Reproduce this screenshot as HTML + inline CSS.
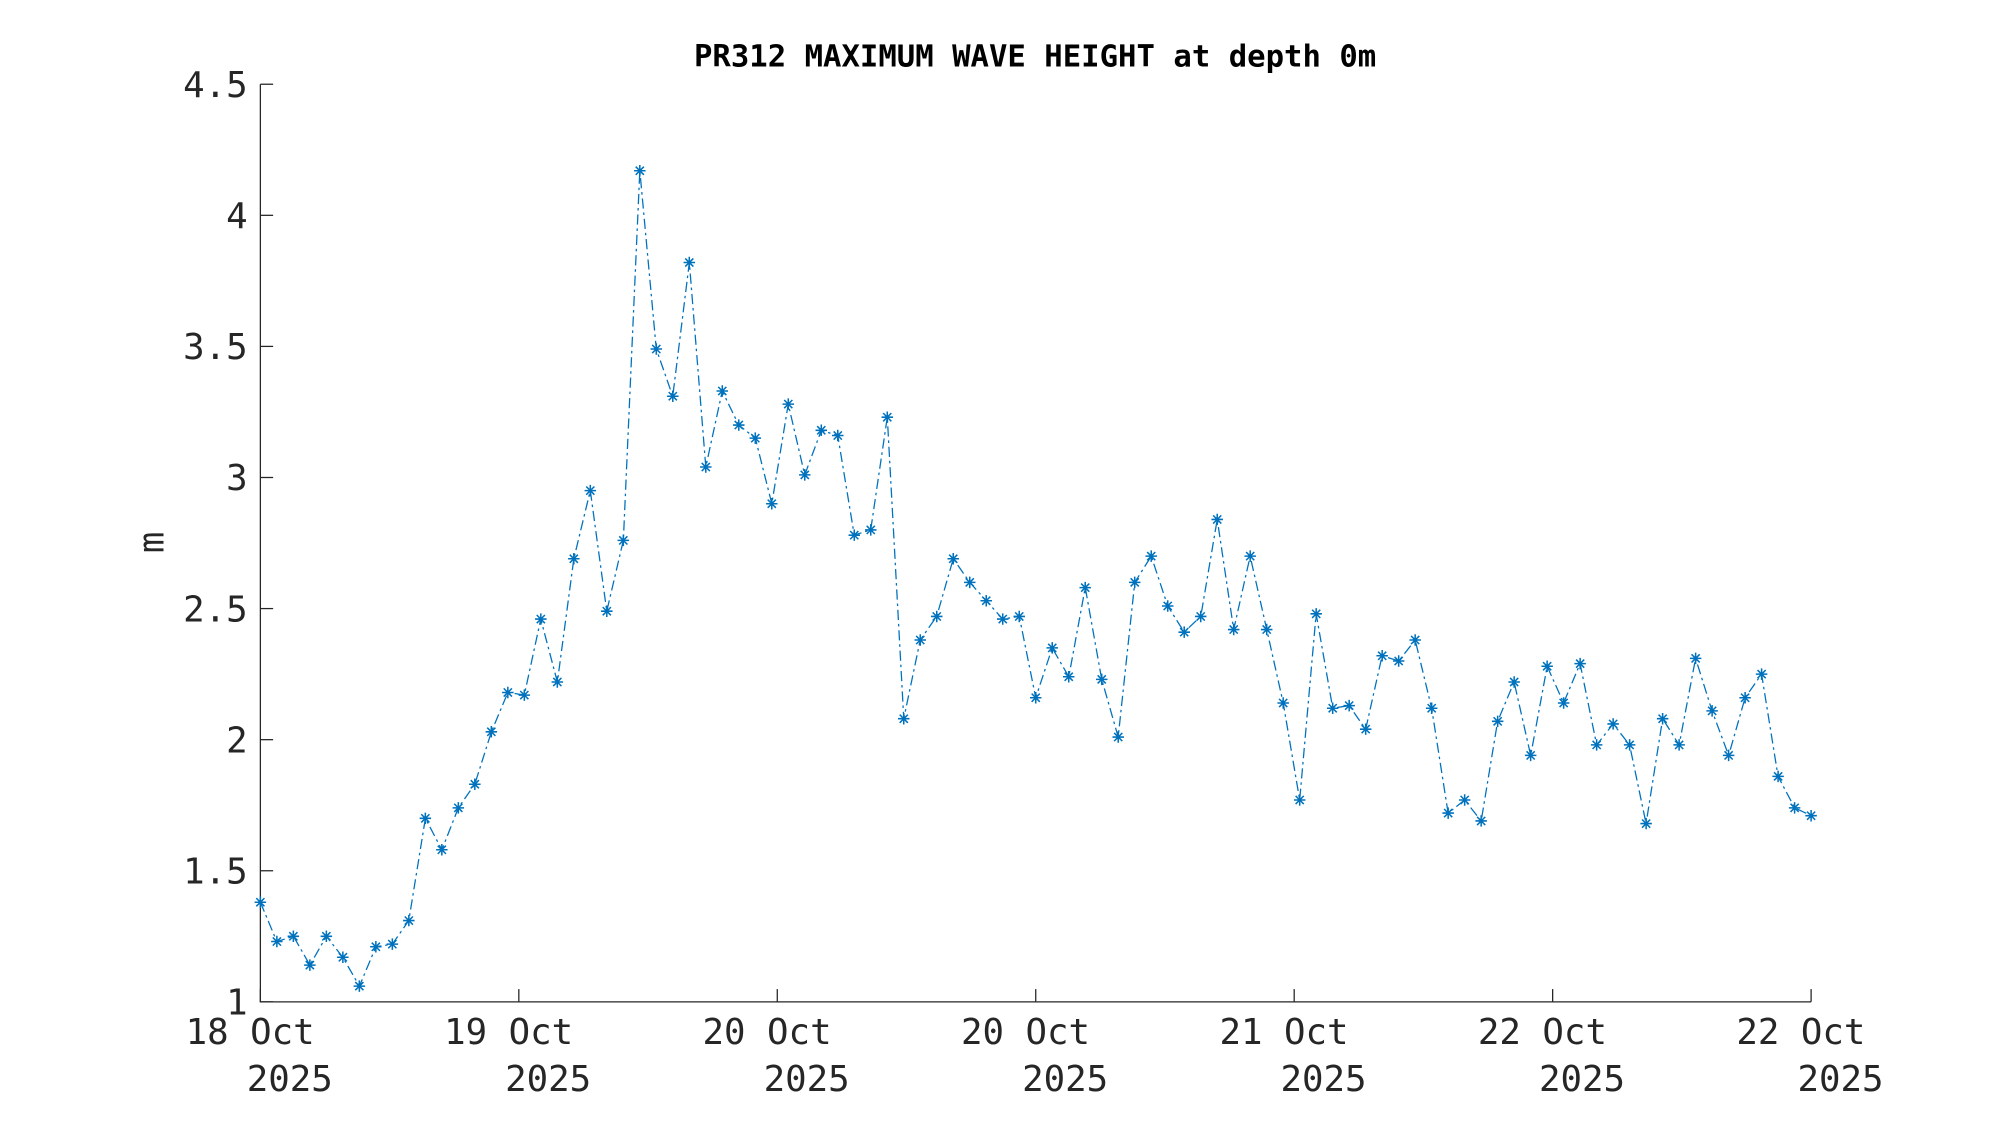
<!DOCTYPE html>
<html><head><meta charset="utf-8"><style>html,body{margin:0;padding:0;background:#fff;width:2000px;height:1125px;overflow:hidden}</style></head>
<body>
<svg id="s" width="2000" height="1125" viewBox="0 0 1567 881.5" preserveAspectRatio="none" xmlns="http://www.w3.org/2000/svg" font-family="'DejaVu Sans Mono','Liberation Mono',monospace">
<rect width="1567" height="881.5" fill="#fff"/>
<text x="811" y="52" text-anchor="middle" font-size="24" font-weight="bold" fill="#000">PR312 MAXIMUM WAVE HEIGHT at depth 0m</text>
<g id="ax" stroke="#262626" stroke-width="1" fill="none"></g>
<g id="lab" fill="#262626" font-size="28"></g>
<text transform="translate(128,425) rotate(-90)" text-anchor="middle" font-size="28" fill="#262626">m</text>
<polyline id="ln" fill="none" stroke="#0072BD" stroke-width="1" stroke-dasharray="8,3,2,3"/>
<g id="mk" stroke="#0072BD" stroke-width="1.2"></g>
</svg>
<script>
const v=[1.38,1.23,1.25,1.14,1.25,1.17,1.06,1.21,1.22,1.31,1.70,1.58,1.74,1.83,2.03,2.18,2.17,2.46,2.22,2.69,2.95,2.49,2.76,4.17,3.49,3.31,3.82,3.04,3.33,3.20,3.15,2.90,3.28,3.01,3.18,3.16,2.78,2.80,3.23,2.08,2.38,2.47,2.69,2.60,2.53,2.46,2.47,2.16,2.35,2.24,2.58,2.23,2.01,2.60,2.70,2.51,2.41,2.47,2.84,2.42,2.70,2.42,2.14,1.77,2.48,2.12,2.13,2.04,2.32,2.30,2.38,2.12,1.72,1.77,1.69,2.07,2.22,1.94,2.28,2.14,2.29,1.98,2.06,1.98,1.68,2.08,1.98,2.31,2.11,1.94,2.16,2.25,1.86,1.74,1.71];
const X0=204,X1=1419,Y0=785,Y1=66;
const fy=y=>Y0-(y-1)/3.5*(Y0-Y1);
const n=v.length,dx=(X1-X0)/(n-1);
const ns="http://www.w3.org/2000/svg";
function el(p,t,a,txt){const e=document.createElementNS(ns,t);for(const k in a)e.setAttribute(k,a[k]);if(txt!=null)e.textContent=txt;document.getElementById(p).appendChild(e);}
el("ax","path",{d:`M${X0} ${Y1}V${Y0}H${X1}`});
for(let i=0;i<=7;i++){const yv=1+i*0.5,y=fy(yv);el("ax","path",{d:`M${X0} ${y}h10`});
el("lab","text",{x:X0-10,y:y+10,"text-anchor":"end"},String(yv));}
const dl=["18 Oct","19 Oct","20 Oct","20 Oct","21 Oct","22 Oct","22 Oct"];
for(let i=0;i<7;i++){const x=X0+i*(X1-X0)/6;el("ax","path",{d:`M${x} ${Y0}v-10`});
el("lab","text",{x:x-8,y:818,"text-anchor":"middle"},dl[i]);
el("lab","text",{x:x+23,y:855,"text-anchor":"middle"},"2025");}
let pts=[];
v.forEach((y,i)=>{const x=X0+i*dx,yy=fy(y);pts.push(x.toFixed(1)+","+yy.toFixed(1));
const r=4.5;el("mk","path",{d:`M${x-r} ${yy}h${2*r}M${x} ${yy-r}v${2*r}M${x-3.2} ${yy-3.2}l6.4 6.4M${x-3.2} ${yy+3.2}l6.4 -6.4`});});
document.getElementById("ln").setAttribute("points",pts.join(" "));
</script>
</body></html>
